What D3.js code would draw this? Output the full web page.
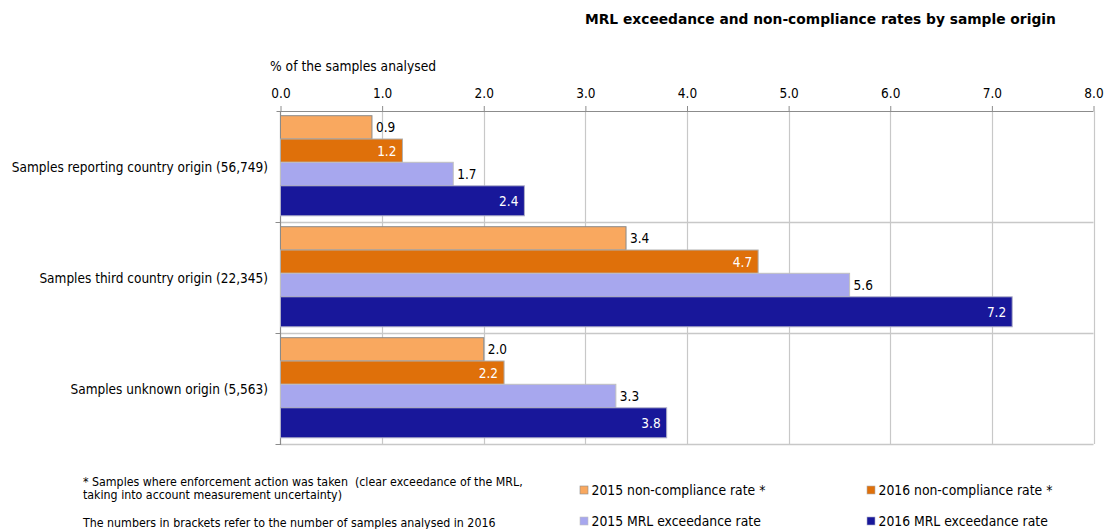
<!DOCTYPE html>
<html><head><meta charset="utf-8">
<script src="https://cdn.jsdelivr.net/npm/d3@7"></script>
<style>
body{margin:0;background:#fff;}
svg text{font-family:"DejaVu Sans Condensed","DejaVu Sans",sans-serif;fill:#000;white-space:pre;}
</style></head>
<body><svg id="c" width="1107" height="529"></svg>
<script>
const categories = ["Samples reporting country origin (56,749)","Samples third country origin (22,345)","Samples unknown origin (5,563)"];
const seriesNames = ["2015 non-compliance rate *","2016 non-compliance rate *","2015 MRL exceedance rate","2016 MRL exceedance rate"];
const nc2015 = [0.9, 3.4, 2.0];
const nc2016 = [1.2, 4.7, 2.2];
const mrl2015 = [1.7, 5.6, 3.3];
const mrl2016 = [2.4, 7.2, 3.8];
const tickValues = [0,1,2,3,4,5,6,7,8];
const title = "MRL exceedance and non-compliance rates by sample origin";
const axisTitle = "% of the samples analysed";
const notes = ["* Samples where enforcement action was taken  (clear exceedance of the MRL,","taking into account measurement uncertainty)","The numbers in brackets refer to the number of samples analysed in 2016"];

(function(){
const seriesValues = [nc2015, nc2016, mrl2015, mrl2016];
const colors = ["#F9A85F","#DF700A","#A7A7EE","#18179A"];
const strokes = ["#8a8a8a","#b0b0b0","#c0c0c0","#b0b0c8"];
const labelInside = [false,true,false,true];
const barH = [23.3,23.3,23.5,30];
const barOff = [4.7];
for(let i=1;i<4;i++) barOff.push(barOff[i-1]+barH[i-1]);

const svg = d3.select("#c");
const pLeft=280.5, pRight=1093.5, pTop=111, pBottom=444;
const x = d3.scaleLinear().domain([0,8]).range([pLeft,pRight]);
const y = d3.scaleBand().domain(categories).range([pTop,pBottom]).padding(0);

svg.append("text").attr("x",585).attr("y",24).attr("font-weight","bold").attr("font-size",13.8)
  .style("font-family","DejaVu Sans").text(title);
svg.append("text").attr("x",270).attr("y",71).attr("font-size",13.7).text(axisTitle);

svg.append("g").selectAll("line").data(tickValues.slice(1)).join("line")
  .attr("x1",d=>Math.round(x(d))+0.5).attr("x2",d=>Math.round(x(d))+0.5)
  .attr("y1",pTop).attr("y2",pBottom).attr("stroke","#c8c8c8").attr("stroke-width",1.2);
svg.append("g").selectAll("line").data(categories).join("line")
  .attr("x1",pLeft).attr("x2",pRight)
  .attr("y1",d=>y(d)+y.bandwidth()+0.5).attr("y2",d=>y(d)+y.bandwidth()+0.5)
  .attr("stroke","#c8c8c8").attr("stroke-width",1.4);

const ax = d3.axisTop(x).tickValues(tickValues).tickFormat(d3.format(".1f")).tickSize(5).tickPadding(8);
const gx = svg.append("g").attr("transform",`translate(0,${pTop})`).call(ax);
gx.select(".domain").attr("stroke","#8c8c8c").attr("d",`M${pLeft-4},0.5H${pRight}`);
gx.selectAll(".tick line").attr("stroke","#8c8c8c");
gx.selectAll(".tick text").attr("font-size",13.5).attr("font-family","DejaVu Sans Condensed, DejaVu Sans").attr("fill","#000");

svg.append("line").attr("x1",pLeft).attr("x2",pLeft).attr("y1",pTop).attr("y2",pBottom+1).attr("stroke","#8c8c8c").attr("stroke-width",1.2);
svg.append("g").selectAll("line").data(categories).join("line")
  .attr("x1",pLeft-5).attr("x2",pLeft).attr("y1",d=>y(d)+y.bandwidth()+0.5).attr("y2",d=>y(d)+y.bandwidth()+0.5)
  .attr("stroke","#8c8c8c");

svg.append("g").selectAll("text").data(categories).join("text")
  .attr("x",268).attr("y",d=>y(d)+y.bandwidth()/2+1).attr("text-anchor","end").attr("dominant-baseline","middle")
  .attr("font-size",13.5).text(d=>d);

seriesValues.forEach((vals,si)=>{
  const g = svg.append("g");
  g.selectAll("rect").data(vals).join("rect")
    .attr("x",x(0)).attr("y",(d,i)=>y(categories[i])+barOff[si])
    .attr("width",d=>x(d)-x(0)).attr("height",barH[si])
    .attr("fill",colors[si]).attr("stroke",strokes[si]).attr("stroke-width",1);
  g.selectAll("text").data(vals).join("text")
    .attr("x",d=>labelInside[si]?x(d)-6:x(d)+4)
    .attr("y",(d,i)=>y(categories[i])+barOff[si]+barH[si]/2+1)
    .attr("dominant-baseline","middle")
    .attr("text-anchor",labelInside[si]?"end":"start")
    .attr("font-size",13.5)
    .style("fill",labelInside[si]?"#fff":"#000")
    .text(d=>d.toFixed(1));
});

svg.append("text").attr("x",83).attr("y",486).attr("font-size",12.3).text(notes[0]);
svg.append("text").attr("x",83).attr("y",499).attr("font-size",12.3).text(notes[1]);
svg.append("text").attr("x",83).attr("y",527).attr("font-size",12.3).text(notes[2]);

const legPos = [[580,490],[867,490],[580,521],[867,521]];
const lg = svg.append("g").selectAll("g").data(seriesNames).join("g")
  .attr("transform",(d,i)=>`translate(${legPos[i][0]},${legPos[i][1]})`);
lg.append("rect").attr("x",0).attr("y",-4).attr("width",8).attr("height",8)
  .attr("fill",(d,i)=>colors[i]).attr("stroke",(d,i)=>strokes[i]).attr("stroke-width",0.6);
lg.append("text").attr("x",11.5).attr("y",1).attr("dominant-baseline","middle").attr("font-size",13.8).text(d=>d);
})();
</script></body></html>
